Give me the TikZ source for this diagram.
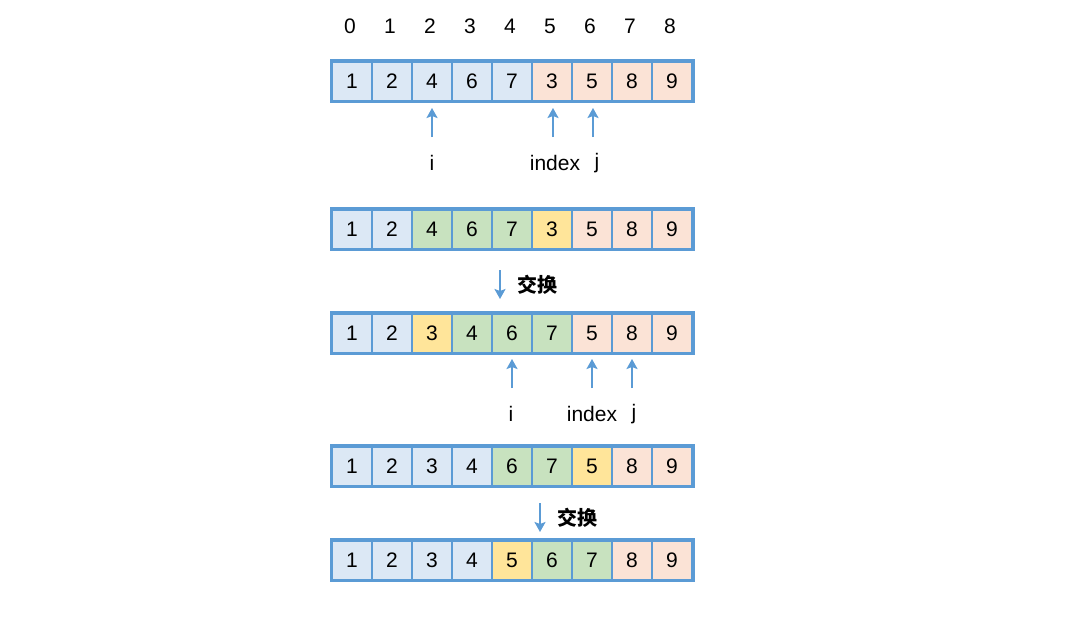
\documentclass[tikz,border=0pt]{standalone}
\usepackage{fontspec}
\setmainfont{Liberation Sans}
\newfontfamily\cjk{Noto Sans CJK SC}
\usetikzlibrary{arrows.meta}
\definecolor{bstroke}{HTML}{5B9BD5}
\definecolor{bfill}{HTML}{DCE8F5}
\definecolor{ofill}{HTML}{FBE3D6}
\definecolor{gfill}{HTML}{C8E2BF}
\definecolor{yfill}{HTML}{FFE59A}
\definecolor{arr}{HTML}{5B9BD5}
\tikzset{
  cell/.style={draw=bstroke, line width=2pt, minimum width=40pt, minimum height=39pt, inner sep=0pt, font=\fontsize{21}{21}\selectfont},
  frame/.style={draw=bstroke, line width=3pt},
  lbl/.style={font=\fontsize{21}{21}\selectfont, inner sep=0pt},
  cjklbl/.style={font=\cjk\bfseries\fontsize{20}{20}\selectfont, inner sep=0pt},
  ptr/.style={draw=arr, line width=2.5pt, -{Stealth[length=10pt,width=11pt,inset=2pt]}},
  cb/.style={fill=bfill}, co/.style={fill=ofill}, cg/.style={fill=gfill}, cy/.style={fill=yfill}
}
\begin{document}
\begin{tikzpicture}[x=1pt,y=-1pt]
\useasboundingbox (0,0) rectangle (1068,616);
% index labels
\foreach \k in {0,...,8} {
  \node[lbl] (idx\k) at (350+40*\k, 26) {\k};
}
% rows
\foreach \r/\yy/\cells in {
  1/81/{1/cb,2/cb,4/cb,6/cb,7/cb,3/co,5/co,8/co,9/co},
  2/229/{1/cb,2/cb,4/cg,6/cg,7/cg,3/cy,5/co,8/co,9/co},
  3/333/{1/cb,2/cb,3/cy,4/cg,6/cg,7/cg,5/co,8/co,9/co},
  4/466/{1/cb,2/cb,3/cb,4/cb,6/cg,7/cg,5/cy,8/co,9/co},
  5/560/{1/cb,2/cb,3/cb,4/cb,5/cy,6/cg,7/cg,8/co,9/co}} {
  \foreach \v/\c [count=\k from 0] in \cells {
    \node[cell,\c] (r\r c\k) at (352+40*\k, \yy) {\v};
  }
  \draw[frame] (r\r c0.north west) rectangle (r\r c8.south east);
}
% pointers row 1
\coordinate (p1a) at (432,137); \coordinate (p1b) at (553,137); \coordinate (p1c) at (593,137);
\coordinate (q1a) at (432,108); \coordinate (q1b) at (553,108); \coordinate (q1c) at (593,108);
\draw[ptr] (p1a) -- (q1a);
\draw[ptr] (p1b) -- (q1b);
\draw[ptr] (p1c) -- (q1c);
\node[lbl] (i1) at (432,163) {i};
\node[lbl] (x1) at (555,163) {index};
\node[lbl] (j1) at (597,163) {j};
% swap 1
\coordinate (s1a) at (500,270); \coordinate (s1b) at (500,299);
\draw[ptr] (s1a) -- (s1b);
\node[cjklbl] (w1) at (537,285) {交换};
% pointers row 3
\coordinate (p3a) at (512,388); \coordinate (p3b) at (592,388); \coordinate (p3c) at (632,388);
\coordinate (q3a) at (512,359); \coordinate (q3b) at (592,359); \coordinate (q3c) at (632,359);
\draw[ptr] (p3a) -- (q3a);
\draw[ptr] (p3b) -- (q3b);
\draw[ptr] (p3c) -- (q3c);
\node[lbl] (i3) at (511,414) {i};
\node[lbl] (x3) at (592,414) {index};
\node[lbl] (j3) at (634,414) {j};
% swap 2
\coordinate (s2a) at (540,503); \coordinate (s2b) at (540,532);
\draw[ptr] (s2a) -- (s2b);
\node[cjklbl] (w2) at (577,518) {交换};
\end{tikzpicture}
\end{document}
